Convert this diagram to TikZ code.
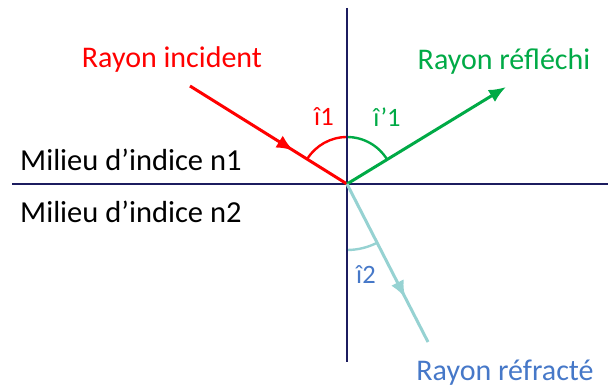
\documentclass[tikz,border=0pt]{standalone}
\usepackage{fontspec}
\setmainfont{Carlito}
\usetikzlibrary{arrows.meta,decorations.markings}
\definecolor{axis}{RGB}{28,28,95}
\definecolor{inc}{RGB}{255,0,0}
\definecolor{refl}{RGB}{0,170,70}
\definecolor{refr}{RGB}{150,210,210}
\definecolor{refrtxt}{RGB}{70,120,200}
\tikzset{
  axisline/.style={axis,line width=2.4pt},
  ray/.style={line width=3pt},
  anglearc/.style={line width=2.4pt},
  lbl/.style={font=\fontsize{30.5}{34}\selectfont,inner sep=0pt},
  small/.style={font=\fontsize{26.5}{30}\selectfont,inner sep=0pt},
  big/.style={font=\fontsize{30}{34}\selectfont,inner sep=0pt},
  midarrow/.style={postaction={decorate},decoration={markings,
     mark=at position #1 with {\arrow{Latex[length=17pt,width=14pt]}}}}
}
\begin{document}
\begin{tikzpicture}[x=1pt,y=-1pt]
\useasboundingbox (0,0) rectangle (611,387);
\coordinate (O) at (347,184);
\coordinate (top) at (347,8);
\coordinate (bot) at (347,362);
\coordinate (left) at (12,184);
\coordinate (right) at (608,184);
\coordinate (A) at (190,86);
\coordinate (B) at (506,87);
\coordinate (C) at (428,342);
% angle arcs
\draw[anglearc,inc] (347,137) arc[start angle=-90,end angle=-148,radius=47];
\draw[anglearc,refl] (347,137) arc[start angle=-90,end angle=-31,radius=47];
\draw[anglearc,refr] (347,250) arc[start angle=90,end angle=63,radius=66];
% axes
\draw[axisline] (top) -- (bot);
\draw[axisline] (left) -- (right);
% rays
\draw[ray,inc,midarrow=0.66] (A) -- (O);
\draw[ray,refl,-{Latex[length=17pt,width=14pt]}] (O) -- (B);
\draw[ray,refr,midarrow=0.72] (O) -- (C);
% labels
\node[big,inc] (tinc) at (172,60) {Rayon incident};
\node[big,refl] (trefl) at (504,62) {Rayon réfléchi};
\node[big,refrtxt] (trefr) at (505,373) {Rayon réfracté};
\node[lbl,anchor=west] (n1) at (20,160) {Milieu d’indice n1};
\node[lbl,anchor=west] (n2) at (20,212) {Milieu d’indice n2};
\node[small,inc] (i1) at (324,117) {î1};
\node[small,refl] (ir1) at (387,117) {î'1};
\node[small,refrtxt] (i2) at (366,275) {î2};
\end{tikzpicture}
\end{document}
